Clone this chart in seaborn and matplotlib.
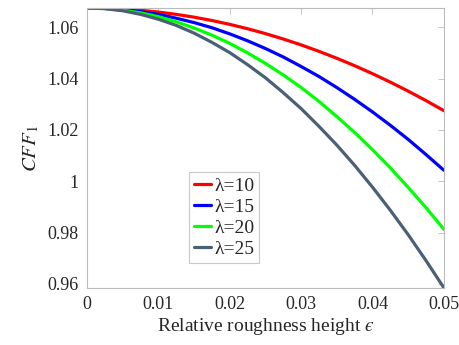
import numpy as np
import pandas as pd
import matplotlib
matplotlib.use("Agg")
import matplotlib.pyplot as plt
import seaborn as sns

eps = [0.0, 0.0025, 0.005, 0.0075, 0.01, 0.0125, 0.015, 0.0175, 0.02, 0.0225, 0.025,
       0.0275, 0.03, 0.0325, 0.035, 0.0375, 0.04, 0.0425, 0.045, 0.0475, 0.05]
cff_l10 = [1.0675, 1.0674, 1.0671, 1.0666, 1.0659, 1.0650, 1.0639, 1.0626, 1.0611, 1.0594, 1.0575,
           1.0554, 1.0531, 1.0506, 1.0479, 1.0450, 1.0419, 1.0386, 1.0351, 1.0314, 1.0275]
cff_l15 = [1.0675, 1.0673, 1.0669, 1.0661, 1.0650, 1.0635, 1.0618, 1.0598, 1.0574, 1.0547, 1.0517,
           1.0484, 1.0447, 1.0408, 1.0365, 1.0319, 1.0270, 1.0218, 1.0163, 1.0104, 1.0043]
cff_l20 = [1.0675, 1.0673, 1.0666, 1.0656, 1.0641, 1.0621, 1.0597, 1.0569, 1.0537, 1.0500, 1.0459,
           1.0414, 1.0365, 1.0311, 1.0252, 1.0190, 1.0123, 1.0052, 0.9976, 0.9897, 0.9813]
cff_l25 = [1.0675, 1.0672, 1.0664, 1.0650, 1.0631, 1.0607, 1.0577, 1.0541, 1.0501, 1.0454, 1.0403,
           1.0345, 1.0283, 1.0214, 1.0141, 1.0062, 0.9977, 0.9887, 0.9792, 0.9691, 0.9585]
labels = ["λ=10", "λ=15", "λ=20", "λ=25"]
colors = ["#ff0000", "#0000ff", "#00ff00", "#4a6076"]
xticks = [0, 0.01, 0.02, 0.03, 0.04, 0.05]
xticklabels = ["0", "0.01", "0.02", "0.03", "0.04", "0.05"]
yticks = [0.96, 0.98, 1.0, 1.02, 1.04, 1.06]
yticklabels = ["0.96", "0.98", "1", "1.02", "1.04", "1.06"]

frames = []
for lab, vals in zip(labels, [cff_l10, cff_l15, cff_l20, cff_l25]):
    frames.append(pd.DataFrame({"eps": eps, "cff": vals, "lam": lab}))
df = pd.concat(frames, ignore_index=True)

sns.set_theme(style="white")
plt.rcParams["font.family"] = ["Liberation Serif", "DejaVu Serif"]
plt.rcParams["mathtext.fontset"] = "stix"

fig = plt.figure(figsize=(4.59, 3.45), dpi=100)
ax = fig.add_axes([0.1895, 0.165, 0.7775, 0.812])
sns.lineplot(data=df, x="eps", y="cff", hue="lam", palette=colors, linewidth=2.3,
             ax=ax, legend=False, estimator=None, sort=False)

ax.set_xlim(0, 0.05)
ax.set_ylim(0.9584, 1.0675)
ax.set_xticks(xticks)
ax.set_xticklabels(xticklabels)
ax.set_yticks(yticks)
ax.set_yticklabels(yticklabels)
ax.tick_params(axis="both", which="both", direction="in", length=4, width=0.6,
               colors="#bbbbbb", labelcolor="#262626", labelsize=13,
               top=True, right=True, pad=6)
for s in ax.spines.values():
    s.set_color("#bbbbbb")
    s.set_linewidth(0.8)
    s.set_visible(True)

ax.set_xlabel("Relative roughness height $\u03f5$", fontsize=14, color="#262626", labelpad=2)
ax.set_ylabel(r"$CFF_1$", fontsize=15, color="#262626", labelpad=4)

handles = [plt.Line2D([], [], color=c, lw=2.3) for c in colors]
leg = ax.legend(handles, labels, loc="lower left", bbox_to_anchor=(0.286, 0.089),
                borderaxespad=0, fontsize=14, handlelength=0.9, handletextpad=0.15,
                labelspacing=0.18, borderpad=0.25, frameon=True, fancybox=False)
leg.get_frame().set_edgecolor("#bbbbbb")
leg.get_frame().set_linewidth(0.8)

fig.savefig("out.png", dpi=100)
